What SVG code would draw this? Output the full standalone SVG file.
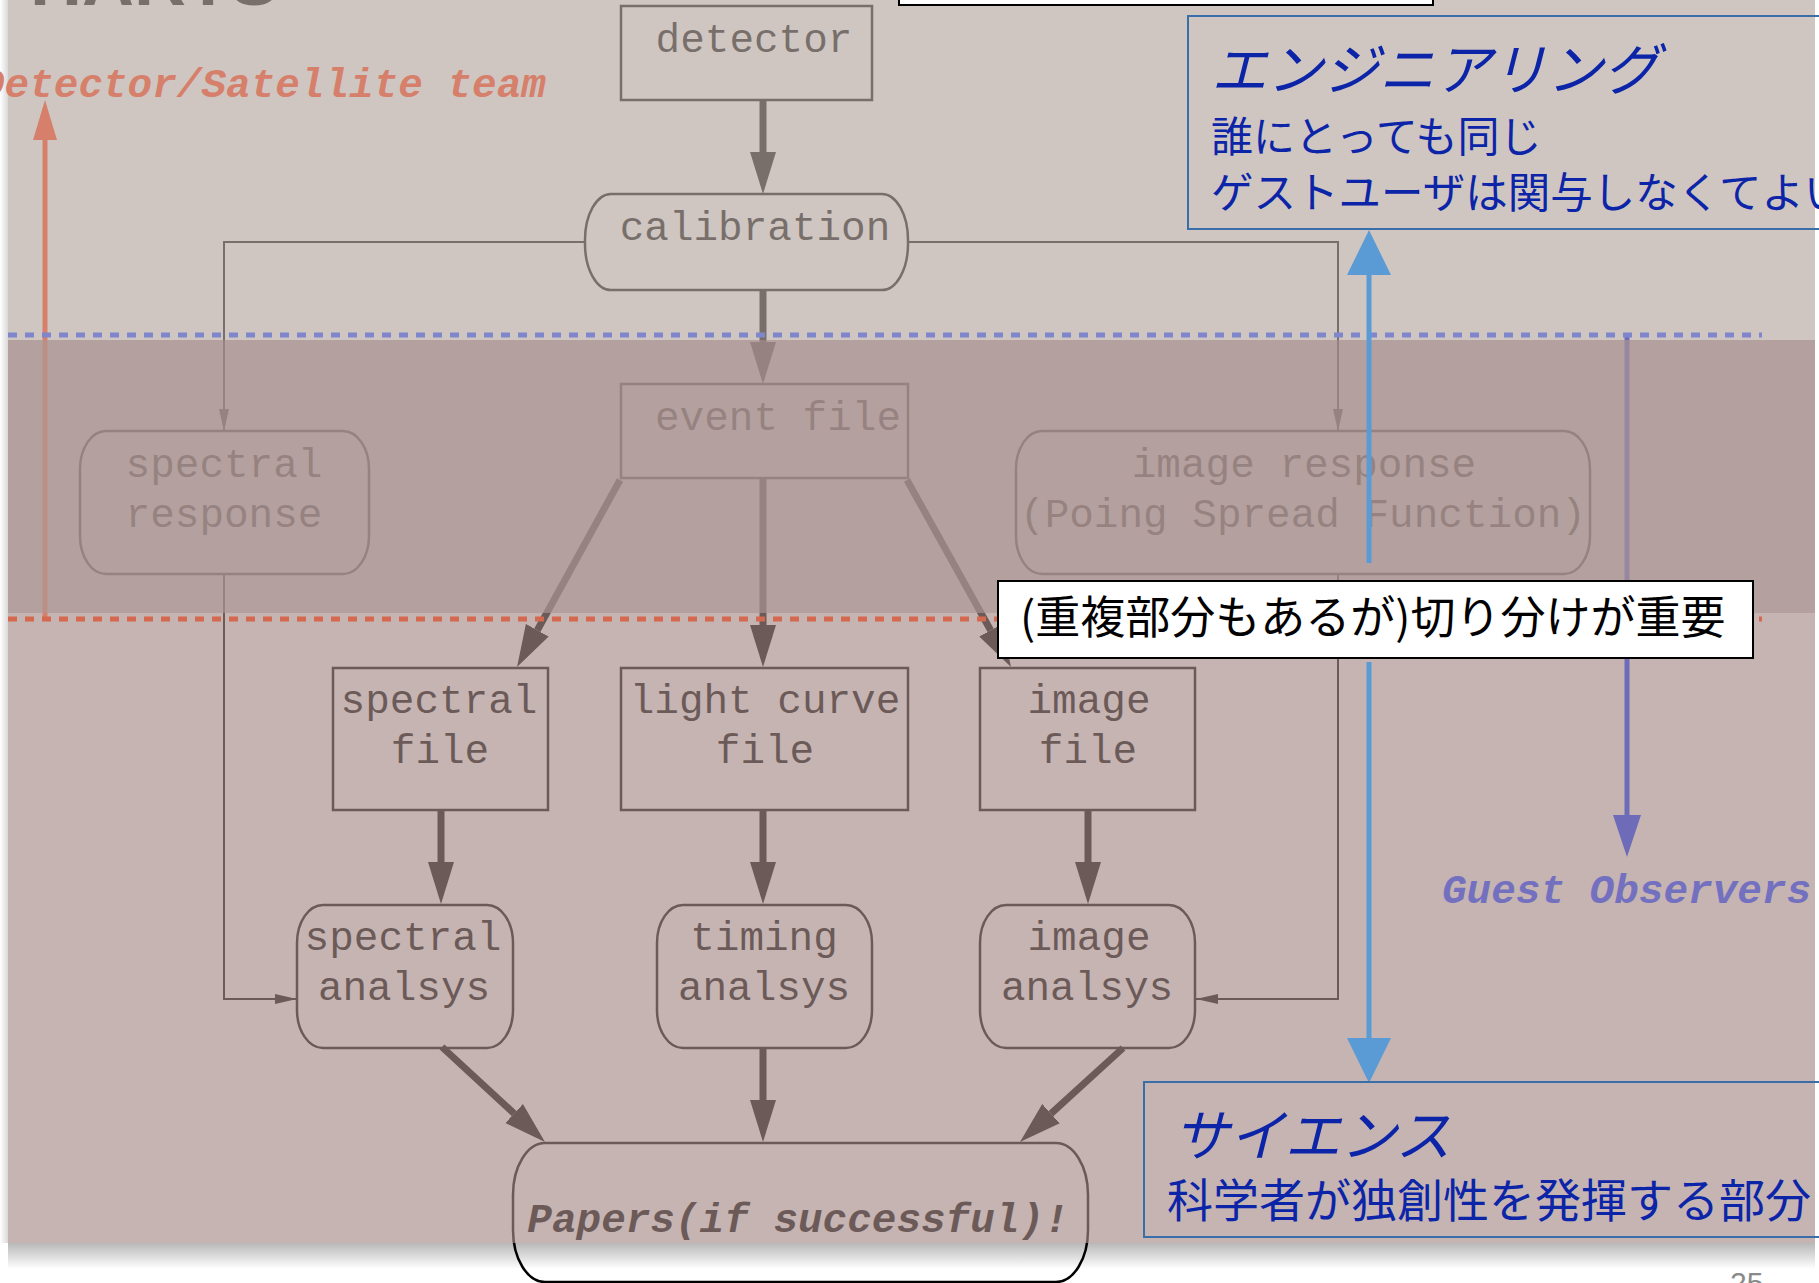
<svg xmlns="http://www.w3.org/2000/svg" width="1819" height="1283" viewBox="0 0 1819 1283">
<defs>
<style>
.mono{font-family:"Liberation Mono","DejaVu Sans Mono",monospace;font-size:41px;fill:#000;text-anchor:middle}
.box{fill:none;stroke:#000;stroke-width:2.5}
.thick{stroke:#000;stroke-width:7;fill:none}
.thin{stroke:#000;stroke-width:2;fill:none}
.jp{font-family:"Noto Sans CJK JP",sans-serif;fill:#0c24a8}
.frame{fill:none;stroke:#3a6ea8;stroke-width:2}
</style>
<marker id="ah" markerUnits="userSpaceOnUse" markerWidth="42" markerHeight="28" viewBox="0 -14 42 28" refX="0" refY="0" orient="auto"><path d="M0,-13 L42,0 L0,13 z" fill="#000"/></marker>
<marker id="ahs" markerUnits="userSpaceOnUse" markerWidth="22" markerHeight="12" viewBox="0 -6 22 12" refX="22" refY="0" orient="auto"><path d="M0,-5 L22,0 L0,5 z" fill="#000"/></marker>
<marker id="ahRed" markerUnits="userSpaceOnUse" markerWidth="40" markerHeight="26" viewBox="0 -13 40 26" refX="0" refY="0" orient="auto"><path d="M0,-12 L40,0 L0,12 z" fill="#d6806b"/></marker>
<marker id="ahPur" markerUnits="userSpaceOnUse" markerWidth="42" markerHeight="30" viewBox="0 -15 42 30" refX="0" refY="0" orient="auto"><path d="M0,-14 L42,0 L0,14 z" fill="#6e6cb8"/></marker>
<marker id="ahBlue" markerUnits="userSpaceOnUse" markerWidth="45" markerHeight="46" viewBox="0 -23 45 46" refX="0" refY="0" orient="auto"><path d="M0,-22 L45,0 L0,22 z" fill="#5b9bd5"/></marker>
<linearGradient id="shadowB" x1="0" y1="0" x2="0" y2="1"><stop offset="0" stop-color="#000" stop-opacity="0.28"/><stop offset="1" stop-color="#000" stop-opacity="0"/></linearGradient>
<linearGradient id="shadowL" x1="1" y1="0" x2="0" y2="0"><stop offset="0" stop-color="#000" stop-opacity="0.15"/><stop offset="1" stop-color="#000" stop-opacity="0"/></linearGradient>
</defs>

<rect x="0" y="0" width="1819" height="1283" fill="#fff"/>

<!-- cut-off slide title -->
<text x="30" y="5" font-family="Liberation Sans, Arial, sans-serif" font-weight="bold" font-size="72" fill="#000">HARTS</text>

<!-- flowchart connectors -->
<g id="connectors">
<path class="thick" d="M763,100 V152" marker-end="url(#ah)"/>
<path class="thick" d="M763,290 V342" marker-end="url(#ah)"/>
<path class="thin" d="M585,242 H224 V431" marker-end="url(#ahs)"/>
<path class="thin" d="M908,242 H1338 V431" marker-end="url(#ahs)"/>
<path class="thick" d="M620,480 L537.3,630.2" marker-end="url(#ah)"/>
<path class="thick" d="M763,478 V625" marker-end="url(#ah)"/>
<path class="thick" d="M907,480 L990.6,630.3" marker-end="url(#ah)"/>
<path class="thick" d="M441,810 V862" marker-end="url(#ah)"/>
<path class="thick" d="M763,810 V862" marker-end="url(#ah)"/>
<path class="thick" d="M1088,810 V862" marker-end="url(#ah)"/>
<path class="thin" d="M224,574 V999 H297" marker-end="url(#ahs)"/>
<path class="thin" d="M1338,574 V999 H1196" marker-end="url(#ahs)"/>
<path class="thick" d="M442,1047 L514.1,1113.5" marker-end="url(#ah)"/>
<path class="thick" d="M763,1048 V1100" marker-end="url(#ah)"/>
<path class="thick" d="M1123,1048 L1051,1113.7" marker-end="url(#ah)"/>
</g>

<!-- nodes -->
<g id="detector"><rect class="box" x="621" y="6" width="251" height="94"/><text class="mono" x="754" y="52">detector</text></g>
<g id="calibration"><rect class="box" x="585" y="194" width="323" height="96" rx="26" ry="46"/><text class="mono" x="755" y="240">calibration</text></g>
<g id="event-file"><rect class="box" x="621" y="384" width="287" height="94"/><text class="mono" x="778" y="430">event file</text></g>
<g id="spectral-response"><rect class="box" x="80" y="431" width="289" height="143" rx="26" ry="38"/><text class="mono" x="224" y="477">spectral</text><text class="mono" x="224" y="527">response</text></g>
<g id="image-response"><rect class="box" x="1016" y="431" width="574" height="143" rx="26" ry="38"/><text class="mono" x="1304" y="477">image response</text><text class="mono" x="1303" y="527">(Poing Spread Function)</text></g>
<g id="spectral-file"><rect class="box" x="333" y="668" width="215" height="142"/><text class="mono" x="439" y="713">spectral</text><text class="mono" x="440" y="763">file</text></g>
<g id="light-curve-file"><rect class="box" x="621" y="668" width="287" height="142"/><text class="mono" x="765" y="713">light curve</text><text class="mono" x="765" y="763">file</text></g>
<g id="image-file"><rect class="box" x="980" y="668" width="215" height="142"/><text class="mono" x="1089" y="713">image</text><text class="mono" x="1088" y="763">file</text></g>
<g id="spectral-analsys"><rect class="box" x="297" y="905" width="216" height="143" rx="26" ry="38"/><text class="mono" x="403" y="950">spectral</text><text class="mono" x="404" y="1000">analsys</text></g>
<g id="timing-analsys"><rect class="box" x="657" y="905" width="215" height="143" rx="26" ry="38"/><text class="mono" x="764" y="950">timing</text><text class="mono" x="764" y="1000">analsys</text></g>
<g id="image-analsys"><rect class="box" x="980" y="905" width="215" height="143" rx="26" ry="38"/><text class="mono" x="1089" y="950">image</text><text class="mono" x="1087" y="1000">analsys</text></g>
<g id="papers"><rect class="box" x="513" y="1143" width="575" height="139" rx="32" ry="52"/><text class="mono" x="798" y="1232" font-style="italic" font-weight="bold">Papers(if successful)!</text></g>

<!-- translucent overlays of the slide -->
<rect x="8" y="0" width="1807" height="340" fill="rgb(182,168,162)" fill-opacity="0.659"/>
<rect x="8" y="340" width="1807" height="903" fill="rgb(165,139,136)" fill-opacity="0.647"/>
<rect x="0" y="0" width="8" height="1243" fill="url(#shadowL)"/>
<rect x="8" y="1243" width="1807" height="26" fill="url(#shadowB)"/>

<!-- team arrows (under the band) -->
<g id="team-arrows">
<path d="M45,619 V140" stroke="#d6806b" stroke-width="5" fill="none" marker-end="url(#ahRed)"/>
<path d="M1627,336 V815" stroke="#6e6cb8" stroke-width="5" fill="none" marker-end="url(#ahPur)"/>
</g>

<!-- middle band -->
<rect x="8" y="340" width="1807" height="273" fill="rgb(172,151,148)" fill-opacity="0.67"/>

<!-- boundary lines -->
<g id="boundaries">
<line x1="8" y1="335" x2="1762" y2="335" stroke="#7f86cc" stroke-width="5" stroke-dasharray="9 8"/>
<line x1="8" y1="619" x2="1762" y2="619" stroke="#d4694f" stroke-width="5" stroke-dasharray="9 8"/>
</g>

<!-- double arrow -->
<g id="blue-arrow">
<path d="M1369,563 V275" stroke="#5b9bd5" stroke-width="5" fill="none" marker-end="url(#ahBlue)"/>
<path d="M1369,662 V1038" stroke="#5b9bd5" stroke-width="5" fill="none" marker-end="url(#ahBlue)"/>
</g>

<!-- top white box -->
<rect x="899" y="-10" width="534" height="15" fill="#fff" stroke="#000" stroke-width="2"/>

<!-- labels -->
<text x="-20" y="97" font-family="Liberation Mono, monospace" font-size="41" font-style="italic" font-weight="bold" fill="#d6806b">Detector/Satellite team</text>
<text x="1442" y="903" font-family="Liberation Mono, monospace" font-size="41" font-style="italic" font-weight="bold" fill="#7470c0">Guest Observers</text>

<g id="engineering">
<rect class="frame" x="1188" y="16" width="650" height="213"/>
<text class="jp" x="1211" y="90" font-size="56" font-style="italic">エンジニアリング</text>
<text class="jp" x="1211" y="152" font-size="42">誰にとっても同じ</text>
<text class="jp" x="1211" y="208" font-size="42.5">ゲストユーザは関与しなくてよい</text>
</g>

<g id="science">
<rect class="frame" x="1144" y="1082" width="700" height="155"/>
<text class="jp" x="1173" y="1156" font-size="56" font-style="italic">サイエンス</text>
<text class="jp" x="1167" y="1217" font-size="46">科学者が独創性を発揮する部分</text>
</g>

<g id="note">
<rect x="998" y="581" width="755" height="77" fill="#fff" stroke="#000" stroke-width="2"/>
<text x="1020" y="634" font-family="Noto Sans CJK JP, sans-serif" font-size="45" fill="#000">(重複部分もあるが)切り分けが重要</text>
</g>

<text x="1730" y="1293" font-family="Liberation Sans, Arial, sans-serif" font-size="30" fill="#8a8a8a">25</text>
</svg>
